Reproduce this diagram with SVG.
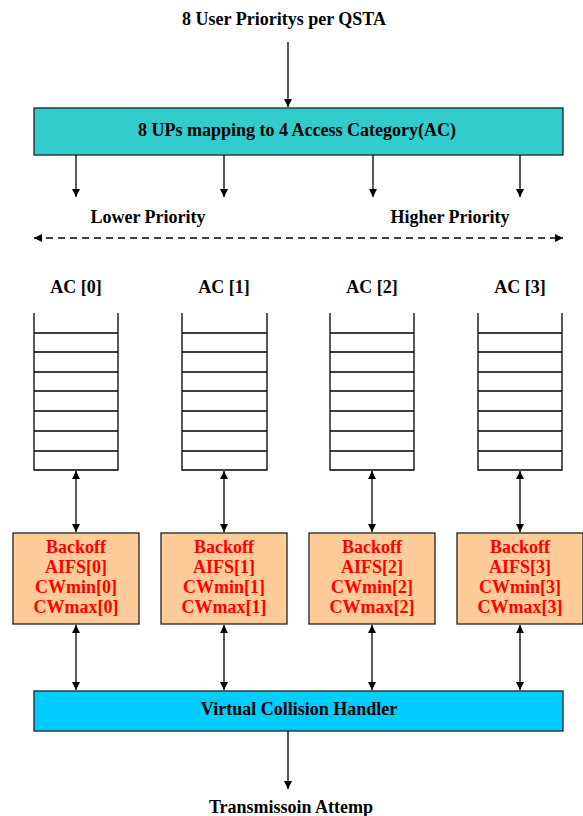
<svg xmlns="http://www.w3.org/2000/svg" width="583" height="816" viewBox="0 0 583 816">
<style>
text{font-family:"Liberation Serif","Times New Roman",serif;font-weight:bold;text-anchor:middle;fill:#000}
.t{font-size:18px}
.r{font-size:18px;fill:#ff0000}
.ln{stroke:#000;stroke-width:1.3;fill:none}
.q{stroke:#000;stroke-width:1.3;fill:none}
</style>
<defs>
<marker id="ah" viewBox="0 0 10 10" refX="10" refY="5" markerWidth="8" markerHeight="8" markerUnits="userSpaceOnUse" orient="auto-start-reverse">
<path d="M0,0 L10,5 L0,10 z" fill="#000"/>
</marker>
</defs>
<g id="title"><text class="t" x="284" y="25">8 User Prioritys per QSTA</text></g>
<g id="mapping">
<rect x="34" y="108" width="529" height="47" fill="#33cccc" stroke="#222" stroke-width="1.3"/>
<text class="t" x="297" y="136">8 UPs mapping to 4 Access Category(AC)</text>
</g>
<g id="labels">
<text class="t" x="148" y="223">Lower Priority</text>
<text class="t" x="450" y="223">Higher Priority</text>
<text class="t" x="76" y="293">AC [0]</text>
<text class="t" x="224" y="293">AC [1]</text>
<text class="t" x="372" y="293">AC [2]</text>
<text class="t" x="520" y="293">AC [3]</text>
</g>
<g id="queue0" class="q">
<path d="M34,313 V470 H118 V313 M34,333 H118 M34,352 H118 M34,372 H118 M34,391 H118 M34,411 H118 M34,431 H118 M34,451 H118"/>
</g>
<g id="queue1" class="q">
<path d="M182,313 V470 H267 V313 M182,333 H267 M182,352 H267 M182,372 H267 M182,391 H267 M182,411 H267 M182,431 H267 M182,451 H267"/>
</g>
<g id="queue2" class="q">
<path d="M330,313 V470 H414 V313 M330,333 H414 M330,352 H414 M330,372 H414 M330,391 H414 M330,411 H414 M330,431 H414 M330,451 H414"/>
</g>
<g id="queue3" class="q">
<path d="M478,313 V470 H562 V313 M478,333 H562 M478,352 H562 M478,372 H562 M478,391 H562 M478,411 H562 M478,431 H562 M478,451 H562"/>
</g>
<g id="backoff0">
<rect x="13" y="533" width="126" height="91" fill="#ffcc99" stroke="#222" stroke-width="1.3"/>
<text class="r" x="76" y="553">Backoff</text>
<text class="r" x="76" y="573">AIFS[0]</text>
<text class="r" x="76" y="593">CWmin[0]</text>
<text class="r" x="76" y="613">CWmax[0]</text>
</g>
<g id="backoff1">
<rect x="161" y="533" width="126" height="91" fill="#ffcc99" stroke="#222" stroke-width="1.3"/>
<text class="r" x="224" y="553">Backoff</text>
<text class="r" x="224" y="573">AIFS[1]</text>
<text class="r" x="224" y="593">CWmin[1]</text>
<text class="r" x="224" y="613">CWmax[1]</text>
</g>
<g id="backoff2">
<rect x="309" y="533" width="126" height="91" fill="#ffcc99" stroke="#222" stroke-width="1.3"/>
<text class="r" x="372" y="553">Backoff</text>
<text class="r" x="372" y="573">AIFS[2]</text>
<text class="r" x="372" y="593">CWmin[2]</text>
<text class="r" x="372" y="613">CWmax[2]</text>
</g>
<g id="backoff3">
<rect x="457" y="533" width="126" height="91" fill="#ffcc99" stroke="#222" stroke-width="1.3"/>
<text class="r" x="520" y="553">Backoff</text>
<text class="r" x="520" y="573">AIFS[3]</text>
<text class="r" x="520" y="593">CWmin[3]</text>
<text class="r" x="520" y="613">CWmax[3]</text>
</g>
<g id="vch">
<rect x="34" y="691" width="529" height="40" fill="#00ccff" stroke="#222" stroke-width="1.3"/>
<text class="t" x="299" y="715">Virtual Collision Handler</text>
</g>
<g id="output"><text class="t" x="291" y="813">Transmissoin Attemp</text></g>
<g id="connectors" class="ln">
<line x1="288" y1="42" x2="288" y2="107" marker-end="url(#ah)"/>
<line x1="76" y1="155" x2="76" y2="197" marker-end="url(#ah)"/>
<line x1="224" y1="155" x2="224" y2="197" marker-end="url(#ah)"/>
<line x1="373" y1="155" x2="373" y2="197" marker-end="url(#ah)"/>
<line x1="520" y1="155" x2="520" y2="197" marker-end="url(#ah)"/>
<line x1="34" y1="238" x2="563" y2="238" stroke-dasharray="7,5" marker-start="url(#ah)" marker-end="url(#ah)"/>
<line x1="76" y1="471" x2="76" y2="532" marker-start="url(#ah)" marker-end="url(#ah)"/>
<line x1="224" y1="471" x2="224" y2="532" marker-start="url(#ah)" marker-end="url(#ah)"/>
<line x1="372" y1="471" x2="372" y2="532" marker-start="url(#ah)" marker-end="url(#ah)"/>
<line x1="520" y1="471" x2="520" y2="532" marker-start="url(#ah)" marker-end="url(#ah)"/>
<line x1="76" y1="625" x2="76" y2="690" marker-start="url(#ah)" marker-end="url(#ah)"/>
<line x1="224" y1="625" x2="224" y2="690" marker-start="url(#ah)" marker-end="url(#ah)"/>
<line x1="372" y1="625" x2="372" y2="690" marker-start="url(#ah)" marker-end="url(#ah)"/>
<line x1="520" y1="625" x2="520" y2="690" marker-start="url(#ah)" marker-end="url(#ah)"/>
<line x1="288" y1="731" x2="288" y2="789" marker-end="url(#ah)"/>
</g>
</svg>
